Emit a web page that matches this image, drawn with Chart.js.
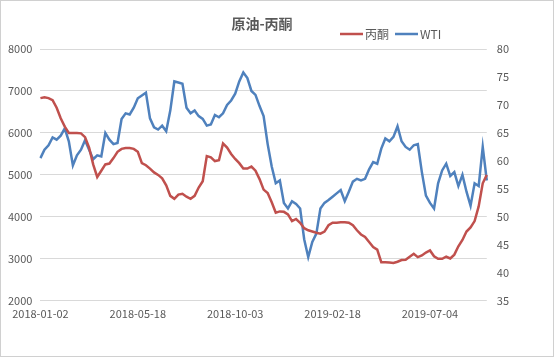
<!DOCTYPE html>
<html>
<head>
<meta charset="utf-8">
<script src="https://cdn.jsdelivr.net/npm/chart.js@4.4.1/dist/chart.umd.min.js"></script>
<style>
  body { margin: 0; background: #fff; }
  #chart { display: block; }
</style>
</head>
<body>
<canvas id="chart" width="554" height="360"></canvas>
<script>
const xTickLabels = ["2018-01-02", "2018-05-18", "2018-10-03", "2019-02-18", "2019-07-04"];
const tickEvery = 24;

// 丙酮, left axis
const acetone = [
  6830, 6850, 6830, 6780, 6600, 6350, 6150, 6000, 6000, 6000,
  5990, 5900, 5650, 5250, 4950, 5100, 5250, 5270, 5400, 5550,
  5620, 5640, 5640, 5620, 5550, 5280, 5230, 5150, 5060, 5000,
  4920, 4750, 4500, 4430, 4530, 4550, 4480, 4430, 4500, 4700,
  4850, 5450, 5420, 5330, 5350, 5750, 5650, 5500, 5380, 5280,
  5150, 5150, 5200, 5100, 4900, 4650, 4570, 4350, 4100, 4130,
  4120, 4060, 3900, 3950, 3860, 3730, 3680, 3650, 3620, 3600,
  3650, 3800, 3860, 3860, 3870, 3870, 3860, 3800, 3680, 3580,
  3520, 3400, 3280, 3220, 2920, 2920, 2910, 2900, 2930, 2970,
  2980, 3050, 3120, 3040, 3080, 3150, 3200, 3060, 3000, 3000,
  3050, 3010, 3100, 3300, 3450, 3650, 3750, 3900, 4250, 4800,
  5000
];

// WTI, right axis
const wti = [
  60.5, 62.0, 62.8, 64.2, 63.8, 64.5, 65.8, 63.5, 59.2, 61.0,
  62.0, 63.7, 62.0, 60.3, 61.0, 60.8, 65.0, 63.8, 63.0, 63.2,
  67.5, 68.5, 68.3, 69.5, 71.2, 71.7, 72.2, 67.6, 66.0, 65.6,
  66.3, 65.3, 69.0, 74.2, 74.0, 73.8, 69.5, 68.5, 69.0, 68.0,
  67.5, 66.3, 66.5, 68.2, 67.8, 68.5, 70.0, 70.8, 72.0, 74.2,
  75.8, 74.8, 72.5, 71.8, 69.8, 68.0, 63.0, 59.0, 56.0, 56.5,
  52.5, 51.5, 52.8, 52.3, 51.5, 46.0, 42.8, 45.5, 47.0, 51.5,
  52.5, 53.0, 53.6, 54.2, 54.8, 52.8, 54.5, 56.3, 56.8, 56.5,
  56.8, 58.5, 59.8, 59.5, 62.2, 64.0, 63.5, 64.3, 66.2, 63.5,
  62.5, 62.0, 62.8, 63.0, 58.0, 53.8, 52.5, 51.5, 56.0, 58.3,
  59.5, 57.3, 58.0, 55.5, 57.5, 54.5, 52.0, 56.0, 55.5, 62.5,
  56.5
];

const categories = acetone.map((_, i) =>
  i % tickEvery === 0 ? xTickLabels[i / tickEvery] || "" : ""
);

const textColor = "#595959";
const gridColor = "#d9d9d9";
const fontFamily = '"Noto Sans CJK SC", "Open Sans", sans-serif';

// title, legend and frame drawn by hand so they sit where the original has them
const decor = {
  id: "decor",
  beforeDraw(chart) {
    const ctx = chart.ctx;
    ctx.save();
    ctx.fillStyle = "#fff";
    ctx.fillRect(0, 0, chart.width, chart.height);
    ctx.strokeStyle = "#d0d0d0";
    ctx.lineWidth = 1;
    ctx.strokeRect(0.5, 0.5, chart.width - 1, chart.height - 4);
    ctx.restore();
  },
  afterDraw(chart) {
    const ctx = chart.ctx;
    ctx.save();
    ctx.fillStyle = textColor;
    ctx.font = "bold 14px " + fontFamily;
    ctx.textAlign = "center";
    ctx.textBaseline = "middle";
    ctx.fillText("原油-丙酮", 262, 24);

    ctx.font = "12px " + fontFamily;
    ctx.textAlign = "left";
    const items = [
      { text: "丙酮", color: "#c0504d", x: 340 },
      { text: "WTI", color: "#4f81bd", x: 395 },
    ];
    items.forEach((it) => {
      ctx.strokeStyle = it.color;
      ctx.lineWidth = 2.5;
      ctx.beginPath();
      ctx.moveTo(it.x, 34);
      ctx.lineTo(it.x + 23, 34);
      ctx.stroke();
      ctx.fillText(it.text, it.x + 25, 34);
    });
    ctx.restore();
  },
};

new Chart(document.getElementById("chart"), {
  type: "line",
  data: {
    labels: categories,
    datasets: [
      {
        label: "丙酮",
        data: acetone,
        borderColor: "#c0504d",
        borderWidth: 2.5,
        pointRadius: 0,
        yAxisID: "y",
      },
      {
        label: "WTI",
        data: wti,
        borderColor: "#4f81bd",
        borderWidth: 2.5,
        pointRadius: 0,
        yAxisID: "y1",
      },
    ],
  },
  options: {
    responsive: false,
    animation: false,
    layout: { padding: { left: 0, right: 35, top: 49, bottom: 42 } },
    plugins: {
      legend: { display: false },
      title: { display: false },
      tooltip: { enabled: false },
    },
    scales: {
      x: {
        grid: { display: false },
        border: { display: false },
        ticks: {
          autoSkip: false,
          maxRotation: 0,
          minRotation: 0,
          padding: -2,
          color: textColor,
          font: { family: fontFamily, size: 11 },
          callback: (v, i) => categories[i],
        },
      },
      y: {
        position: "left",
        min: 2000,
        max: 8000,
        grid: { color: gridColor, drawTicks: false },
        border: { display: false },
        ticks: {
          stepSize: 1000,
          padding: 8,
          color: textColor,
          font: { family: fontFamily, size: 11 },
          callback: (v) => String(v),
        },
      },
      y1: {
        position: "right",
        min: 35,
        max: 80,
        grid: { drawOnChartArea: false, drawTicks: false },
        border: { display: false },
        ticks: {
          stepSize: 5,
          padding: 10,
          color: textColor,
          font: { family: fontFamily, size: 11 },
        },
      },
    },
  },
  plugins: [decor],
});
</script>
</body>
</html>
